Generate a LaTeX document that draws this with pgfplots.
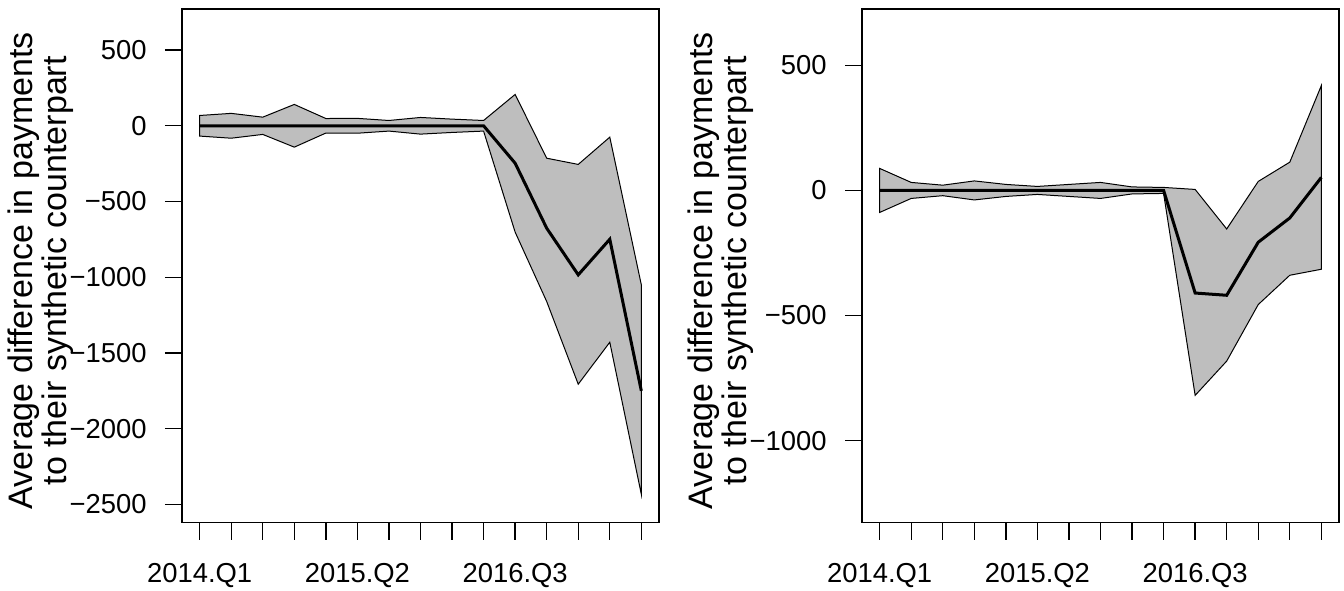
\documentclass[border=0pt]{standalone}
\usepackage{fontspec}
\setmainfont{Liberation Sans}
\usepackage{pgfplots}
\pgfplotsset{compat=1.18}
\definecolor{bandgray}{RGB}{190,190,190}
\pgfplotsset{rstyle/.style={
  scale only axis, width=238.5pt, height=256.75pt,
  xmin=0.44, xmax=15.56,
  tick pos=left, tick align=outside,
  major tick length=8.5pt,
  every tick/.style={black, line width=0.7pt},
  axis line style={line width=0.7pt},
  xtick={1,...,15},
  xticklabels={2014.Q1,,,,,2015.Q2,,,,,2016.Q3,,,,},
  tick label style={font=\fontsize{13.7}{16}\selectfont},
  xticklabel style={inner sep=0pt, anchor=north, yshift=-11.5pt},
  yticklabel style={inner sep=0pt, anchor=east, xshift=-9pt},
  ylabel={Average difference in payments\\to their synthetic counterpart},
  ylabel style={align=center, font=\fontsize{17}{15}\selectfont, inner sep=0pt,
    at={([xshift=-70.5pt,yshift=-2.5pt]axis description cs:0,0.5)}, anchor=center},
}}
\begin{document}
\begin{tikzpicture}
\useasboundingbox (0,0) rectangle (672pt,295pt);
\begin{axis}[rstyle, at={(91pt,33.75pt)}, anchor=south west,
  ymin=-2619, ymax=771,
  ytick={-2500,-2000,-1500,-1000,-500,0,500},
  yticklabels={−2500,−2000,−1500,−1000,−500,0,500}]
\addplot[fill=bandgray, draw=black, line width=0.5pt] coordinates {
 (1,68) (2,82) (3,57) (4,141) (5,48) (6,49) (7,35) (8,55) (9,44) (10,35)
 (11,207) (12,-214) (13,-255) (14,-75) (15,-1050)
 (15,-2433) (14,-1429) (13,-1706) (12,-1160) (11,-702)
 (10,-35) (9,-44) (8,-55) (7,-35) (6,-49) (5,-48) (4,-141) (3,-57) (2,-82) (1,-68)
} -- cycle;
\addplot[black, line width=1.5pt] coordinates {
 (1,0) (2,0) (3,0) (4,0) (5,0) (6,0) (7,0) (8,0) (9,0) (10,0)
 (11,-247) (12,-676) (13,-984) (14,-749) (15,-1750)
};
\end{axis}
\begin{axis}[rstyle, at={(431pt,33.75pt)}, anchor=south west,
  ymin=-1327, ymax=725,
  ytick={-1000,-500,0,500},
  yticklabels={−1000,−500,0,500}]
\addplot[fill=bandgray, draw=black, line width=0.5pt] coordinates {
 (1,88) (2,32) (3,21) (4,38) (5,24) (6,16) (7,24) (8,32) (9,14) (10,12)
 (11,4) (12,-154) (13,36) (14,113) (15,419)
 (15,-315) (14,-339) (13,-456) (12,-682) (11,-819)
 (10,-12) (9,-14) (8,-32) (7,-24) (6,-16) (5,-24) (4,-38) (3,-21) (2,-32) (1,-88)
} -- cycle;
\addplot[black, line width=1.5pt] coordinates {
 (1,0) (2,0) (3,0) (4,0) (5,0) (6,0) (7,0) (8,0) (9,0) (10,0)
 (11,-410) (12,-419) (13,-207) (14,-110) (15,52)
};
\end{axis}
\end{tikzpicture}
\end{document}
